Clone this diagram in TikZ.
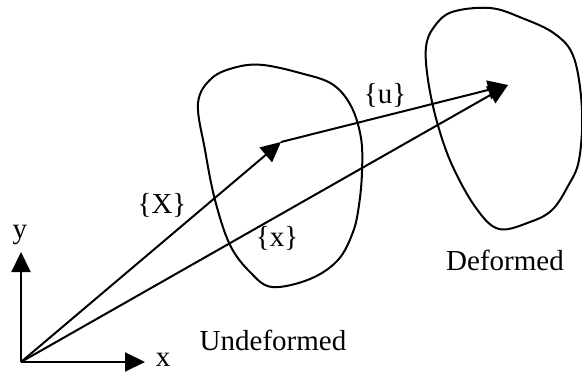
\documentclass[tikz,border=0pt]{standalone}
\usepackage{fontspec}
\setmainfont{Liberation Serif}
\usetikzlibrary{arrows.meta}
\begin{document}
\begin{tikzpicture}[x=0.5pt,y=-0.5pt,
  vec/.style={line width=1pt,-{Triangle[length=10pt,width=9.5pt]}},
  blob/.style={line width=1pt},
  lbl/.style={font=\fontsize{14.5}{16}\selectfont,inner sep=0pt}]
\useasboundingbox (0,0) rectangle (582,373);
\coordinate (O) at (21,362);
\coordinate (XE) at (145,362);
\coordinate (YE) at (21,252);
\coordinate (P) at (281,142);
\coordinate (Q) at (508,85);
% undeformed body
\draw[blob] plot[smooth cycle,tension=0.6] coordinates {
 (198,103) (212,78) (237,67) (263,65) (300,73) (332,84) (351,106)
 (361,138) (362,172) (359,205) (353,232) (338,260) (310,279) (272,287)
 (250,272) (230,245) (215,200) (205,150)};
% deformed body
\draw[blob] plot[smooth cycle,tension=0.6] coordinates {
 (426,47) (434,27) (452,12) (490,8) (522,18) (555,34) (574,58)
 (582,110) (579,160) (568,186) (552,210) (530,222) (499,229)
 (476,208) (452,165) (437,122) (428,80)};
% axes
\draw[vec] (O) -- (XE);
\draw[vec] (O) -- (YE);
% vectors
\draw[vec] (O) -- (P);
\draw[vec] (P) -- (Q);
\draw[vec] (O) -- (Q);
% labels
\node[lbl] (ly) at (20,235) {y};
\node[lbl] (lx) at (163,360) {x};
\node[lbl] (lX) at (162,205) {\{X\}};
\node[lbl] (lx2) at (277,238) {\{x\}};
\node[lbl] (lu) at (385,95) {\{u\}};
\node[lbl] (lund) at (273,340) {Undeformed};
\node[lbl] (ldef) at (505,260) {Deformed};
\end{tikzpicture}
\end{document}
